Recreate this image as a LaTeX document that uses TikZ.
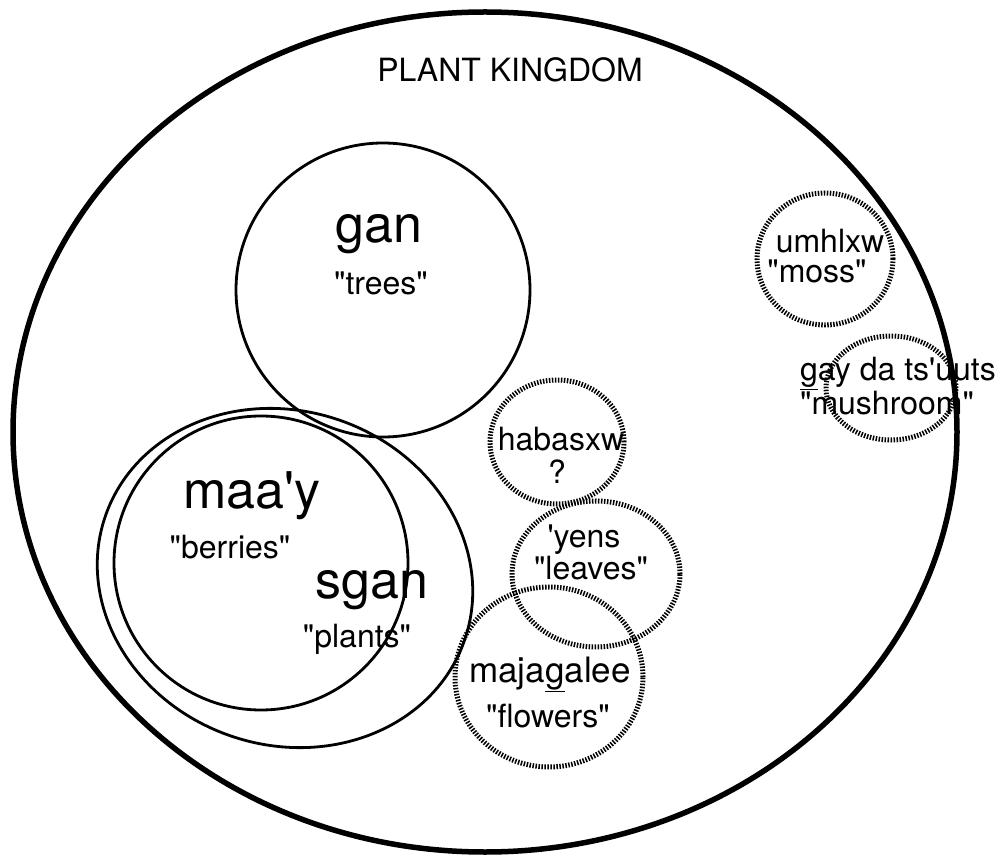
\documentclass[tikz,border=0pt]{standalone}
\usepackage{fontspec}
\newfontfamily\hv{TeX Gyre Heros}
\tikzset{
  outerring/.style={line width=5.5pt},
  solidring/.style={line width=2.8pt},
  hatchring/.style={line width=5pt, dash pattern=on 1.5pt off 1.5pt},
  biglabel/.style={font=\hv\fontsize{52}{56}\selectfont, anchor=base, inner sep=0pt},
  smalllabel/.style={font=\hv\fontsize{32}{36}\selectfont, anchor=base, inner sep=0pt}
}
\begin{document}
\begin{tikzpicture}[x=1pt,y=-1pt]
\useasboundingbox (0,0) rectangle (1007,858);
\fill[white] (0,0) rectangle (1007,858);
% plant kingdom
\draw[outerring] (485,432) ellipse [x radius=472pt, y radius=420pt];
% gan
\draw[solidring] (383,290) circle [radius=147pt];
% maa'y
\draw[solidring] (261,563) circle [radius=147pt];
% sgan
\begin{scope}[shift={(285,578)}, rotate=-19]
  \draw[solidring] (0,0) ellipse [x radius=190pt, y radius=167pt];
\end{scope}
% hatched rings
\draw[hatchring] (557,442) ellipse [x radius=67pt, y radius=62pt];
\draw[hatchring] (596,574) ellipse [x radius=84pt, y radius=73pt];
\draw[hatchring] (549,677) ellipse [x radius=94pt, y radius=90pt];
\draw[hatchring] (825,259) ellipse [x radius=68pt, y radius=66pt];
\draw[hatchring] (891,388) ellipse [x radius=65pt, y radius=52pt];
% labels
\node[smalllabel] (kingdom) at (510,82) {PLANT KINGDOM};
\node[biglabel] (gan) at (379,243) {gan};
\node[smalllabel] (trees) at (381,295) {"trees"};
\node[biglabel] (maay) at (252,508) {maa'y};
\node[smalllabel] (berries) at (230,558) {"berries"};
\node[biglabel] (sgan) at (372,598) {sgan};
\node[smalllabel] (plants) at (357,647) {"plants"};
\node[smalllabel] (habasxw) at (561,450) {habasxw};
\node[smalllabel] (qmark) at (557,483) {?};
\node[smalllabel] (yens) at (584,547) {'yens};
\node[smalllabel] (leaves) at (591,579) {"leaves"};
\node[smalllabel, font=\hv\fontsize{35}{38}\selectfont] (majagalee) at (550,682) {maja\underline{g}alee};
\node[smalllabel] (flowers) at (548,727) {"flowers"};
\node[smalllabel] (umhlxw) at (830,253) {umhlxw};
\node[smalllabel] (moss) at (817,283) {"moss"};
\node[smalllabel] (gay) at (898,381) {\underline{g}ay da ts'uuts};
\node[smalllabel] (mushroom) at (887,415) {"mushroom"};
\end{tikzpicture}
\end{document}
